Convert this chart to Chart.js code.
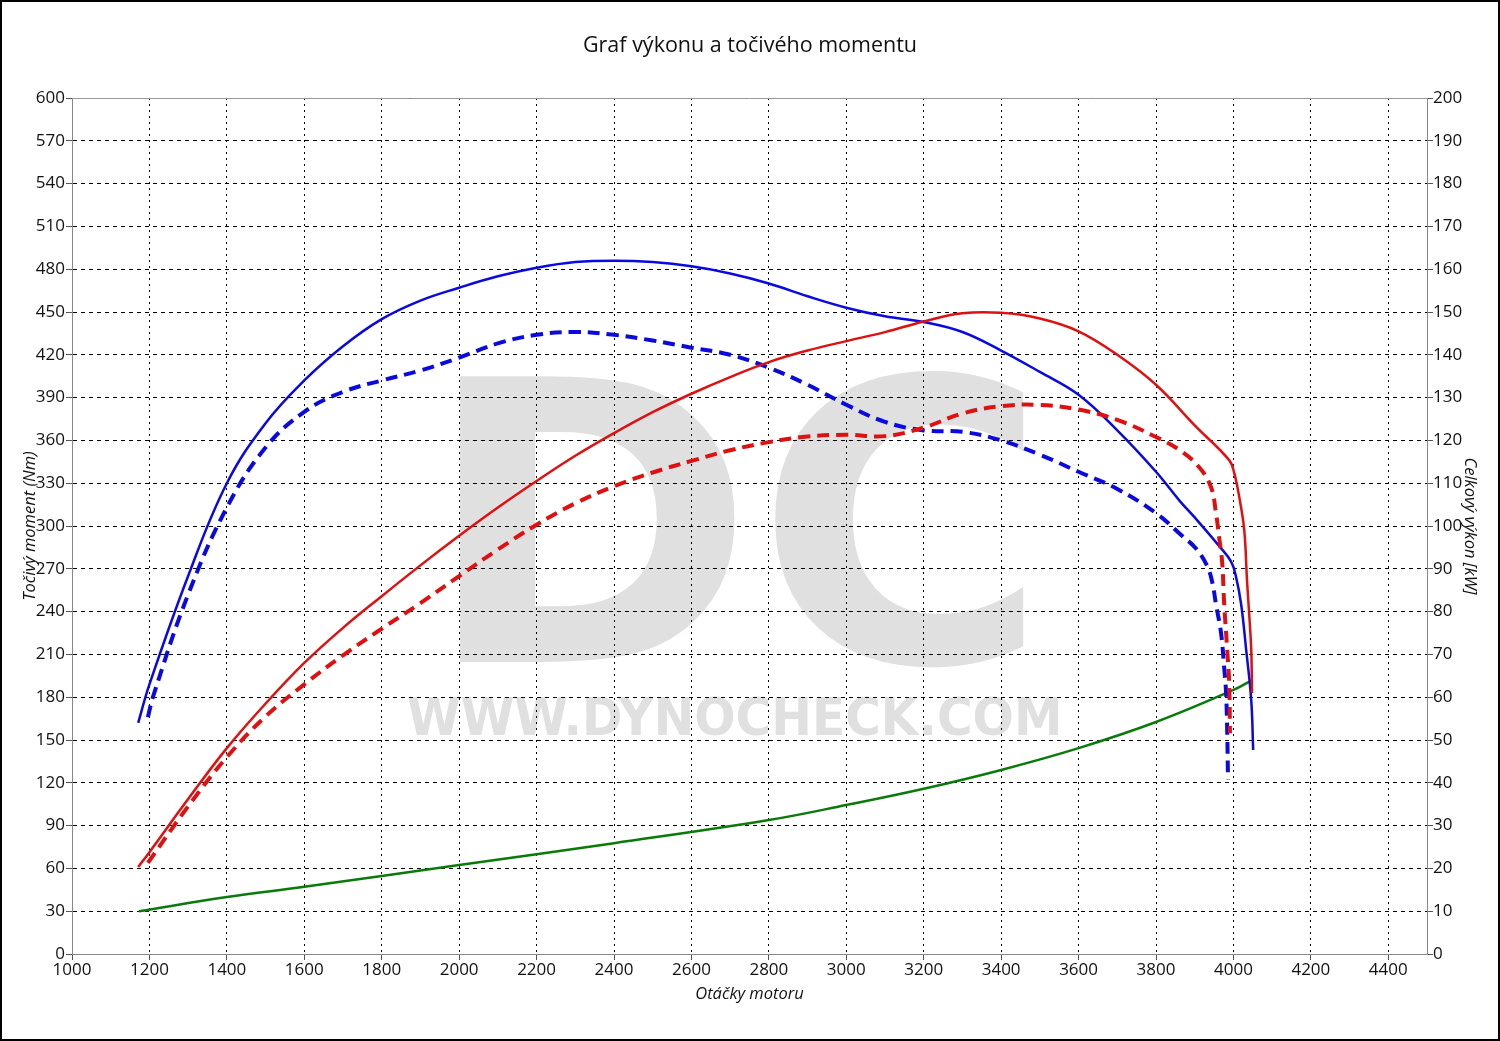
<!DOCTYPE html>
<html>
<head>
<meta charset="utf-8">
<title>Graf výkonu a točivého momentu</title>
<script src="https://cdn.jsdelivr.net/npm/chart.js@4/dist/chart.umd.min.js"></script>
<style>
    html, body { margin: 0; padding: 0; background: #fff; }
</style>
</head>
<body>
<canvas id="grafVykonu" width="1500" height="1041"></canvas>
<script>
// hodnoty (otacky v ot/min, moment v Nm, vykon v kW)
const otackyMomentTuning = [1171, 1200, 1300, 1400, 1500, 1600, 1700, 1800, 1900, 2000, 2100, 2200, 2300, 2400, 2500, 2600, 2700, 2800, 2900, 3000, 3100, 3200, 3300, 3400, 3500, 3600, 3700, 3800, 3860, 3900, 3963, 3994, 4007, 4020, 4033, 4046, 4051];
const momentTuning = [162, 189, 265, 330, 372, 402, 426, 445, 458, 467, 475, 481, 485, 486, 485, 482, 477, 470, 461, 453, 447, 443, 436, 423, 408, 392, 367, 338, 318, 306, 286, 275, 264, 245, 213, 178, 143];

const otackyMomentSerie = [1196, 1210, 1300, 1400, 1500, 1600, 1700, 1800, 1900, 2000, 2100, 2200, 2300, 2400, 2500, 2600, 2700, 2800, 2900, 3000, 3100, 3200, 3300, 3400, 3500, 3600, 3700, 3800, 3868, 3904, 3932, 3945, 3955, 3968, 3976, 3981, 3984, 3986];
const momentSerie = [166, 181, 252, 313, 355, 380, 394, 402, 409, 418, 428, 434, 436, 434, 430, 425, 420, 411, 399, 385, 373, 367, 366, 360, 350, 338, 326, 309, 293, 284, 272, 261, 245, 225, 201, 183, 155, 122];

const otackyVykonTuning = [1171, 1200, 1300, 1400, 1500, 1600, 1700, 1800, 1900, 2000, 2100, 2200, 2300, 2400, 2500, 2600, 2700, 2800, 2900, 3000, 3100, 3200, 3300, 3400, 3500, 3600, 3700, 3800, 3900, 3989, 4002, 4015, 4028, 4035, 4040, 4046, 4048];
const vykonTuning = [20.3, 23.8, 36.2, 48.1, 58.5, 68, 76.2, 83.6, 90.8, 97.7, 104.3, 110.5, 116.4, 121.7, 126.6, 130.9, 134.8, 138.3, 141, 143.2, 145.3, 147.8, 149.7, 149.8, 148.5, 145.5, 140, 133, 123.5, 115.4, 112.4, 106.8, 99, 87.4, 80.4, 71, 61];

const otackyVykonSerie = [1196, 1300, 1400, 1500, 1600, 1700, 1800, 1900, 2000, 2100, 2200, 2300, 2400, 2500, 2600, 2700, 2800, 2900, 3000, 3100, 3200, 3300, 3400, 3500, 3600, 3700, 3800, 3860, 3911, 3942, 3955, 3963, 3971, 3976, 3984, 3989, 3991];
const vykonSerie = [21.3, 34.5, 46, 55.5, 63, 69.8, 76, 82, 88.3, 94.5, 100.3, 105.3, 109.3, 112.5, 115.2, 117.7, 119.6, 120.9, 121.3, 121, 123, 126.3, 128, 128.3, 127.2, 124.8, 120.8, 117.8, 113.8, 109.1, 103, 97.4, 91.4, 82, 71, 63.3, 51.6];

const otackyZtraty = [1173, 1400, 1600, 2000, 2400, 2800, 3000, 3200, 3400, 3600, 3800, 4000, 4048];
const vykonZtraty = [10, 13.3, 15.7, 20.8, 25.9, 31.3, 34.8, 38.6, 43, 48.1, 54.2, 61.7, 64];

const FONT = "'Open Sans', 'Noto Sans', sans-serif";

function body(otacky, hodnoty) {
    return otacky.map((o, i) => ({ x: o, y: hodnoty[i] }));
}

// vodoznak DC + adresa, kresli se pod mrizku
const vodoznak = {
    id: 'vodoznak',
    beforeDraw(chart) {
        const ctx = chart.ctx;
        ctx.save();
        ctx.fillStyle = '#fff';
        ctx.fillRect(0, 0, chart.width, chart.height);
        ctx.fillStyle = '#e0e0e0';
        napis(ctx, 'DC', "bold 300px 'DejaVu Sans Condensed', 'DejaVu Sans'", 458, 368, 1026, 668);
        napis(ctx, 'WWW.DYNOCHECK.COM', "bold 60px 'DejaVu Sans Condensed', 'DejaVu Sans'", 408, 697, 1058, 736);
        ctx.restore();
    },
    afterDraw(chart) {
        const ctx = chart.ctx;
        const a = chart.chartArea;
        ctx.save();
        ctx.strokeStyle = '#999';
        ctx.lineWidth = 1;
        ctx.beginPath();
        ctx.moveTo(a.left, a.top + 0.5);
        ctx.lineTo(a.right, a.top + 0.5);
        ctx.stroke();
        ctx.strokeStyle = '#000';
        ctx.lineWidth = 2;
        ctx.strokeRect(1, 1, chart.width - 2, chart.height - 2);
        ctx.restore();
    }
};

function napis(ctx, text, font, x1, y1, x2, y2) {
    ctx.font = font;
    const m = ctx.measureText(text);
    const w = m.actualBoundingBoxLeft + m.actualBoundingBoxRight;
    const h = m.actualBoundingBoxAscent + m.actualBoundingBoxDescent;
    ctx.save();
    ctx.translate(x1, y1);
    ctx.scale((x2 - x1) / w, (y2 - y1) / h);
    ctx.textBaseline = 'alphabetic';
    ctx.fillText(text, m.actualBoundingBoxLeft, m.actualBoundingBoxAscent);
    ctx.restore();
}

const cisla = { family: FONT, size: 17 };

const ctx = document.getElementById('grafVykonu').getContext('2d');
new Chart(ctx, {
    type: 'line',
    data: {
        datasets: [
            {
                label: 'Výkon tuning',
                data: body(otackyVykonTuning, vykonTuning),
                yAxisID: 'yVykon',
                borderColor: '#e01010',
                borderWidth: 2.5
            },
            {
                label: 'Výkon sériový',
                data: body(otackyVykonSerie, vykonSerie),
                yAxisID: 'yVykon',
                borderColor: '#e01010',
                borderWidth: 4,
                borderDash: [12, 7]
            },
            {
                label: 'Moment tuning',
                data: body(otackyMomentTuning, momentTuning),
                yAxisID: 'yMoment',
                borderColor: '#0a0ae0',
                borderWidth: 2.5
            },
            {
                label: 'Moment sériový',
                data: body(otackyMomentSerie, momentSerie),
                yAxisID: 'yMoment',
                borderColor: '#0a0ae0',
                borderWidth: 4,
                borderDash: [12, 7]
            },
            {
                label: 'Ztráty',
                data: body(otackyZtraty, vykonZtraty),
                yAxisID: 'yVykon',
                borderColor: '#0a7a0a',
                borderWidth: 2.5
            }
        ]
    },
    options: {
        responsive: false,
        animation: false,
        layout: { padding: 0 },
        elements: {
            point: { radius: 0 },
            line: { tension: 0.4, fill: false, borderCapStyle: 'butt' }
        },
        plugins: {
            legend: { display: false },
            tooltip: { enabled: false },
            title: {
                display: true,
                text: 'Graf výkonu a točivého momentu',
                color: '#111',
                font: { family: FONT, size: 21.5, weight: 'normal' },
                padding: { top: 33, bottom: 39.2 }
            }
        },
        scales: {
            x: {
                type: 'linear',
                min: 1000,
                max: 4500,
                afterFit: s => { s.height = 87; },
                ticks: { stepSize: 200, includeBounds: false, color: '#111', padding: 0, maxRotation: 0, font: cisla, callback: v => String(v) },
                grid: { color: '#000', lineWidth: 1, tickLength: 6, tickColor: '#555' },
                border: { color: '#888', dash: [2, 4] },
                title: { display: true, text: 'Otáčky motoru', color: '#111', padding: { bottom: 37 }, font: { family: FONT, size: 16.5, style: 'italic' } }
            },
            yMoment: {
                position: 'left',
                min: 0,
                max: 600,
                afterFit: s => { s.width = 72; },
                ticks: { stepSize: 30, color: '#111', padding: 1, font: cisla },
                grid: { color: '#000', lineWidth: 1, tickLength: 6, tickColor: '#555' },
                border: { color: '#888', dash: [4, 4] },
                title: { display: true, text: 'Točivý moment (Nm)', color: '#111', padding: { top: 20 }, font: { family: FONT, size: 16.5, style: 'italic' } }
            },
            yVykon: {
                position: 'right',
                min: 0,
                max: 200,
                afterFit: s => { s.width = 73; },
                ticks: { stepSize: 10, color: '#111', padding: 0, font: cisla },
                grid: { drawOnChartArea: false, tickLength: 6, tickColor: '#555' },
                border: { color: '#888' },
                title: { display: true, text: 'Celkový výkon [kW]', color: '#111', padding: { top: 20 }, font: { family: FONT, size: 16.5, style: 'italic' } }
            }
        }
    },
    plugins: [vodoznak]
});
</script>
</body>
</html>
